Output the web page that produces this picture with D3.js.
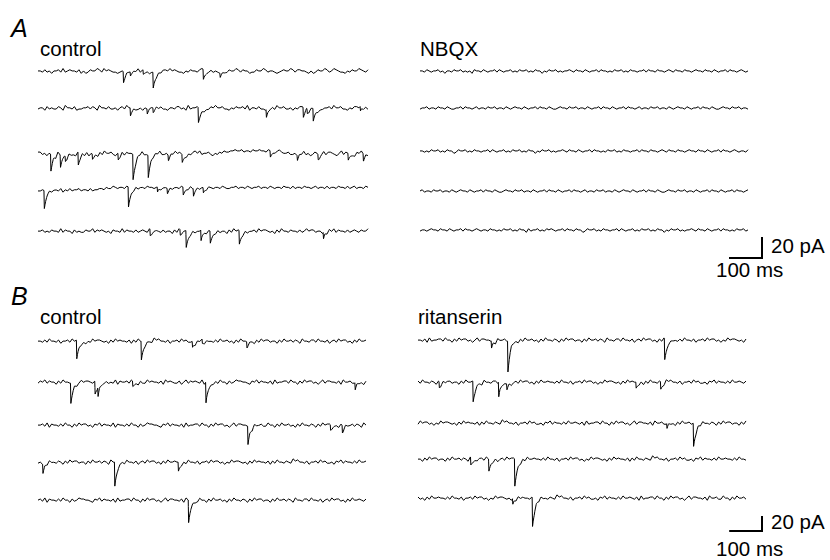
<!DOCTYPE html>
<html>
<head>
<meta charset="utf-8">
<script src="https://cdn.jsdelivr.net/npm/d3@7/dist/d3.min.js"></script>
<style>
  html, body { margin: 0; padding: 0; background: #fff; }
  svg text { font-family: "Liberation Sans", Arial, Helvetica, sans-serif; fill: #000; }
</style>
</head>
<body>
<svg id="chart" width="830" height="560"></svg>
<script>
// ---------------- DATA ----------------
const panelLetters = ["A", "B"];
const conditionLabels = [["control", "NBQX"], ["control", "ritanserin"]];
const sweepDurationMs = 1000;
const scaleBarTime = 100;          // ms
const scaleBarAmp = 20;            // pA
const scaleBarTimeLabel = "100 ms";
const scaleBarAmpLabel = "20 pA";

// baseline noise read along each sweep, one digit per sample (centred on each sweep's mean)
const noiseA_control = [
  "55464535564745655463534655764756544345465565746553443546657565443546554676556454354465576465534465576455434565576466554353465576457654435465576546",
  "45536454465375546344556465375546445356475564453546657564435546645374556453446575564435465564735546443556475564453546657465534455647556443546657564",
  "664535463745536443657463545364755643547465543657443546574453657564435467574556435465766778778677687787768776786556445365745346535746654357465543657464",
  "33434534435243534453443534455465576566576657566576656756657566576657567566576566576556675665765667566576566576657566576656756657566576657567566576",
  "55645465547465536454465574656545365547465546456547566546455364756654645576465546455364756546455647566545364755465546457566455364757465546456546557"
];
const noiseA_nbqx = [
  "55465455645355465564545365546545564654556454655645465535465564545565465546545564655454655645465545564655465545654655465545655465546545564655456545",
  "45564554655465445564655456455465564554654565546545564655465445655465564554654556465546545564655456455465564554654565546545564655465445655465564554",
  "55454655645465534655645465545564654556454655645465535465564545565465546545564655454655645465545564655465545654655465545655465546545564655456545546",
  "56455465564554654565546545564655465445655465564554654556465546545564655456455465564554654565546545564655465445655465564554654556465546545564655456",
  "45545655465546545564655456545546554546556454655364556454656545564655465534655645465545564654556454655645465535465564545565465546545564655454655645"
];
const noiseB_control = [
  "5546475546355647566453547566545364756554636475546548675546355647564453657465546475564536475546536475664553647556465375546647554635647566453647556",
  "4657465536475544635756654637556454736556475536447565546375654463574656547365546475536457665543657465546374556647553647566453574665546375564475536",
  "5564736554647553647566453657465547365546475536457665543657465546374556647553647566453574665546375564475536475564536475546536475664553647556465375",
  "4536475546536475664553647556465375546647554635647566453647556554647554635564756645354756654536475655463647554654867554635564756445365746554647556",
  "5647365546475536457665543657465546374556647553647566453574665546375564475536475564536475546536475664553647556465375546647554635647566453647556546"
];
const noiseB_ritanserin = [
  "5546374556647553647566453574665546375564475536475564536475546536475664553647556465375546647554635647566453647556554647554635564756645354756654536",
  "6475546536475664553647556465375546647554635647566453647556554647554635564756645354756654536475655463647554654867554635564756445365746554647556546",
  "4756645354756654536475655463647554654867554635564756445365746554647556546374556647553647566453574665546375564475536475564536475546536475664553647",
  "5536475664553647556465375546647554635647566453647556554647554635564756645354756654536475655463647554654867554635564756445365746554647556554647554",
  "6453647556554647554635564756645354756654536475655463647554654867554635564756445365746554647556546374556647553647566453574665546375564475536475564"
];
const noiseUnitPa = [1.15, 1.45];   // pA per noise digit, panel A / B

// synaptic events: [onset ms, amplitude pA (inward, drawn downward)]
const eventsA_control = [
  [[258, 10.5], [279, 4], [318, 4], [348, 15], [500, 9.5], [551, 4]],
  [[279, 7.6], [330, 4.8], [348, 4.5], [485, 14], [691, 7.6], [803, 9.5], [815, 4.5], [833, 12], [976, 4.5]],
  [[38, 16], [67, 12], [82, 5], [121, 12], [164, 5], [242, 6], [287, 24], [333, 21], [394, 5], [436, 7.5], [703, 6], [785, 5], [848, 5], [939, 6.5], [985, 6.5]],
  [[18, 17], [273, 19], [361, 5], [391, 5], [439, 7.5], [470, 7.5], [500, 5]],
  [[339, 6], [430, 5], [448, 16], [493, 10.5], [521, 11.5], [609, 13], [864, 6.5]]
];
const eventsA_nbqx = [[], [], [], [], []];
const eventsB_control = [
  [[117, 25], [314, 25], [470, 8], [500, 5], [636, 8]],
  [[99, 27], [173, 17], [182, 13], [288, 7], [511, 28], [966, 10]],
  [[639, 25], [891, 7], [927, 10]],
  [[14, 13], [233, 32], [427, 12]],
  [[458, 30]]
];
const eventsB_ritanserin = [
  [[223, 10], [273, 41], [751, 28]],
  [[64, 8], [167, 27], [245, 20], [270, 8], [664, 8], [739, 10]],
  [[758, 7], [839, 31]],
  [[160, 10], [215, 16], [294, 36]],
  [[288, 8], [348, 38]]
];

// ---------------- LAYOUT ----------------
const layout = [
  { // panel A
    letter: { x: 11, y: 37 },
    labelY: 56,
    pxPerPa: 1.05,
    columns: [
      { x0: 38, x1: 368, rows: [71, 108, 153, 188, 231], labelX: 40, noise: noiseA_control, events: eventsA_control },
      { x0: 420, x1: 748, rows: [71, 108, 151, 191, 230], labelX: 420, noise: noiseA_nbqx, events: eventsA_nbqx }
    ],
    bar: { x: 762, y: 258, ampLabel: { x: 771, y: 253 }, timeLabel: { x: 716, y: 277 } }
  },
  { // panel B
    letter: { x: 11, y: 305 },
    labelY: 324,
    pxPerPa: 0.75,
    columns: [
      { x0: 38, x1: 366, rows: [341, 382, 425, 462, 500], labelX: 40, noise: noiseB_control, events: eventsB_control },
      { x0: 418, x1: 746, rows: [340, 382, 423, 459, 498], labelX: 418, noise: noiseB_ritanserin, events: eventsB_ritanserin }
    ],
    bar: { x: 762, y: 531, ampLabel: { x: 771, y: 529 }, timeLabel: { x: 716, y: 556 } }
  }
];

const RISE = 1.2, TAU = 8;
const eventOffsets = [0, RISE, RISE + 2, RISE + 4, RISE + 7, RISE + 11, RISE + 16, RISE + 23, RISE + 32, RISE + 45];

function eventValue(t, ev) {
  const dt = t - ev[0];
  if (dt <= 0) return 0;
  if (dt < RISE) return -ev[1] * dt / RISE;
  return -ev[1] * Math.exp(-(dt - RISE) / TAU);
}

function buildTrace(noiseStr, events, unit) {
  const n = noiseStr.length;
  const step = sweepDurationMs / (n - 1);
  const digits = Array.from(noiseStr, c => +c);
  const mean = d3.mean(digits);
  const noiseVals = digits.map(d => (d - mean) * unit);
  const noiseAt = t => {
    const i = Math.min(n - 2, Math.floor(t / step));
    const f = t / step - i;
    return noiseVals[i] * (1 - f) + noiseVals[i + 1] * f;
  };
  let times = d3.range(n).map(i => i * step);
  events.forEach(ev => eventOffsets.forEach(o => times.push(ev[0] + o)));
  times = Array.from(new Set(times.filter(t => t >= 0 && t <= sweepDurationMs))).sort((a, b) => a - b);
  return times.map(t => [t, noiseAt(t) + d3.sum(events, ev => eventValue(t, ev))]);
}

// ---------------- DRAW ----------------
const svg = d3.select("#chart");

layout.forEach((panel, pi) => {
  const g = svg.append("g");
  g.append("text")
    .attr("x", panel.letter.x).attr("y", panel.letter.y)
    .attr("font-size", 25).attr("font-style", "italic")
    .text(panelLetters[pi]);

  panel.columns.forEach((col, ci) => {
    g.append("text")
      .attr("x", col.labelX).attr("y", panel.labelY)
      .attr("font-size", 20.5)
      .text(conditionLabels[pi][ci]);

    const x = d3.scaleLinear().domain([0, sweepDurationMs]).range([col.x0, col.x1]);
    col.rows.forEach((base, ri) => {
      const y = d3.scaleLinear().domain([0, 1]).range([base, base - panel.pxPerPa]);
      const data = buildTrace(col.noise[ri], col.events[ri], noiseUnitPa[pi]);
      const line = d3.line().x(d => x(d[0])).y(d => y(d[1]));
      g.append("path")
        .attr("d", line(data))
        .attr("fill", "none")
        .attr("stroke", "#000")
        .attr("stroke-width", 1)
        .attr("stroke-linejoin", "round");
    });
  });

  // scale bar (uses the same time / amplitude scaling)
  const xs = d3.scaleLinear().domain([0, sweepDurationMs]).range([panel.columns[0].x0, panel.columns[0].x1]);
  const barW = xs(scaleBarTime) - xs(0);
  const barH = scaleBarAmp * panel.pxPerPa;
  const b = panel.bar;
  g.append("path")
    .attr("d", `M${b.x - barW},${b.y}H${b.x}V${b.y - barH}`)
    .attr("fill", "none").attr("stroke", "#000").attr("stroke-width", 2);
  g.append("text").attr("x", b.ampLabel.x).attr("y", b.ampLabel.y)
    .attr("font-size", 20.5).text(scaleBarAmpLabel);
  g.append("text").attr("x", b.timeLabel.x).attr("y", b.timeLabel.y)
    .attr("font-size", 20.5).text(scaleBarTimeLabel);
});
</script>
</body>
</html>
